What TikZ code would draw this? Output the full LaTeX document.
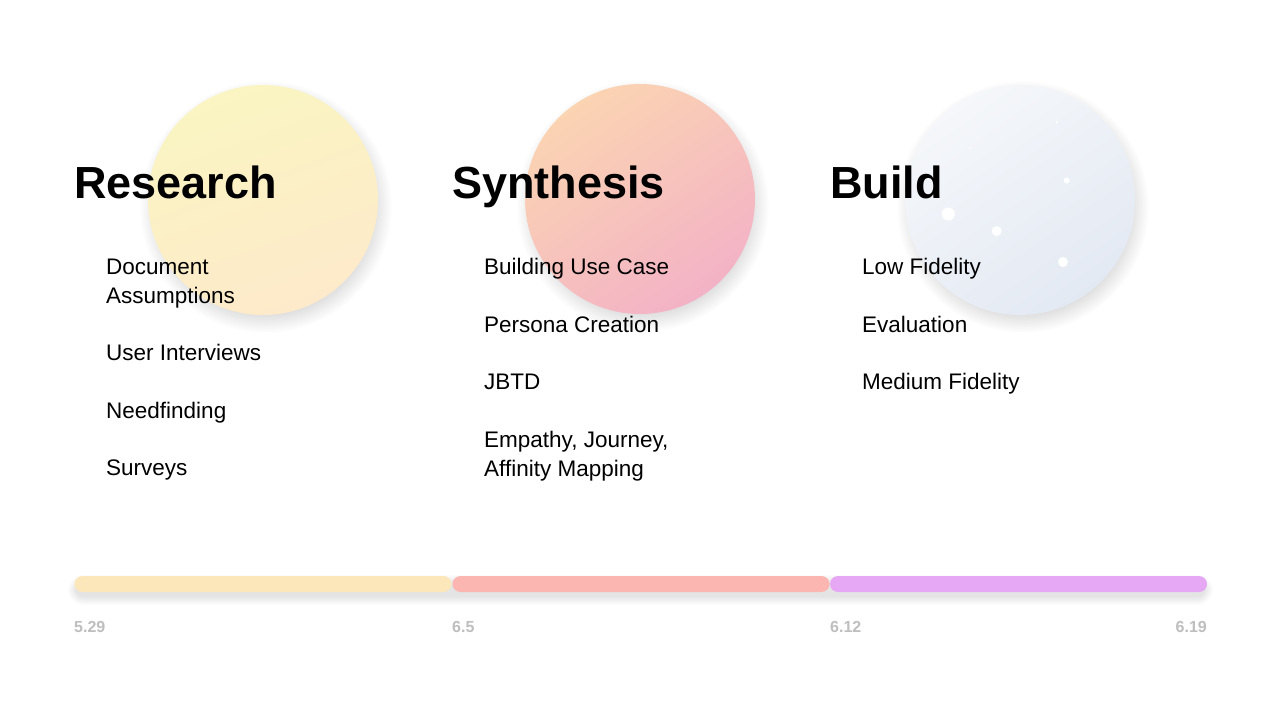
\documentclass[tikz,border=0pt]{standalone}
\usepackage{fontspec}
\setmainfont{Liberation Sans}

\definecolor{resA}{RGB}{250,245,194}
\definecolor{resB}{RGB}{253,234,202}
\definecolor{synA}{RGB}{251,212,178}
\definecolor{synB}{RGB}{243,178,198}
\definecolor{bldA}{RGB}{245,247,250}
\definecolor{bldB}{RGB}{227,233,243}
\definecolor{barRes}{RGB}{252,231,186}
\definecolor{barSyn}{RGB}{251,182,177}
\definecolor{barBld}{RGB}{230,167,244}
\definecolor{dategray}{RGB}{190,190,190}

% two-line entry whose baseline is the first line
\newcommand{\twolines}[2]{\begin{tabular}[t]{@{}l@{}}#1\\#2\end{tabular}}

\begin{document}
\begin{tikzpicture}[x=1pt,y=-1pt,
  phasetitle/.style={anchor=base west, inner sep=0pt,
    font=\fontsize{45}{54}\selectfont\bfseries},
  phaseitem/.style={anchor=base west, inner sep=0pt,
    font=\fontsize{22.5}{29}\selectfont},
  softshade/.style={black, opacity=0.010},
  bar/.style={rounded corners=8pt, minimum height=16pt, inner sep=0pt},
  datelabel/.style={inner sep=0pt, text=dategray,
    font=\fontsize{16}{18}\selectfont\bfseries}]

% canvas
\useasboundingbox[fill=white] (0,0) rectangle (1280,720);

% soft shadows under the discs
\foreach \cx/\cy in {263/200, 640/199, 1020/200} {
  \foreach \k in {0,...,12} {
    \fill[softshade] (\cx+3,\cy+7) circle ({104+1.8*\k});
  }
}

% coloured discs behind each phase
\shade[top color=resA, bottom color=resB, shading angle=20]
  (263,200) circle (115);
\shade[top color=synA, bottom color=synB, shading angle=35]
  (640,199) circle (115);
\shade[top color=bldA, bottom color=bldB, shading angle=35]
  (1020,200) circle (115);

% sparkles on the build disc
\fill[white] (1056.7,122.3) circle (1.4);
\fill[white] (970,148) circle (1);
\fill[white] (1066.7,180.5) circle (3);
\fill[white] (948.3,214) circle (6.5);
\fill[white] (996.7,231) circle (5);
\fill[white] (1063,262) circle (5);

% phase titles
\node[phasetitle] (research) at (74,198) {Research};
\node[phasetitle] (synthesis) at (452,198) {Synthesis};
\node[phasetitle] (build) at (830,198) {Build};

% research activities
\node[phaseitem] (r1) at (106,274) {\twolines{Document}{Assumptions}};
\node[phaseitem] (r2) at (106,360) {User Interviews};
\node[phaseitem] (r3) at (106,418) {Needfinding};
\node[phaseitem] (r4) at (106,475) {Surveys};

% synthesis activities
\node[phaseitem] (s1) at (484,274) {Building Use Case};
\node[phaseitem] (s2) at (484,332) {Persona Creation};
\node[phaseitem] (s3) at (484,389) {JBTD};
\node[phaseitem] (s4) at (484,447) {\twolines{Empathy, Journey,}{Affinity Mapping}};

% build activities
\node[phaseitem] (b1) at (862,274) {Low Fidelity};
\node[phaseitem] (b2) at (862,332) {Evaluation};
\node[phaseitem] (b3) at (862,389) {Medium Fidelity};

% soft shadow under the timeline
\foreach \k in {0,...,8} {
  \fill[black, opacity=0.012, rounded corners={8+\k}]
    (76-\k,583-\k) rectangle (1205+\k,597+\k);
}

% timeline
\node[bar, fill=barRes, minimum width=377pt] (tres) at (263,584) {};
\node[bar, fill=barSyn, minimum width=377pt] (tsyn) at (641,584) {};
\node[bar, fill=barBld, minimum width=377pt] (tbld) at (1018.5,584) {};

% dates
\node[datelabel, anchor=base west] (d1) at (74,632) {5.29};
\node[datelabel, anchor=base west] (d2) at (452,632) {6.5};
\node[datelabel, anchor=base west] (d3) at (830,632) {6.12};
\node[datelabel, anchor=base east] (d4) at (1207,632) {6.19};
\end{tikzpicture}
\end{document}
